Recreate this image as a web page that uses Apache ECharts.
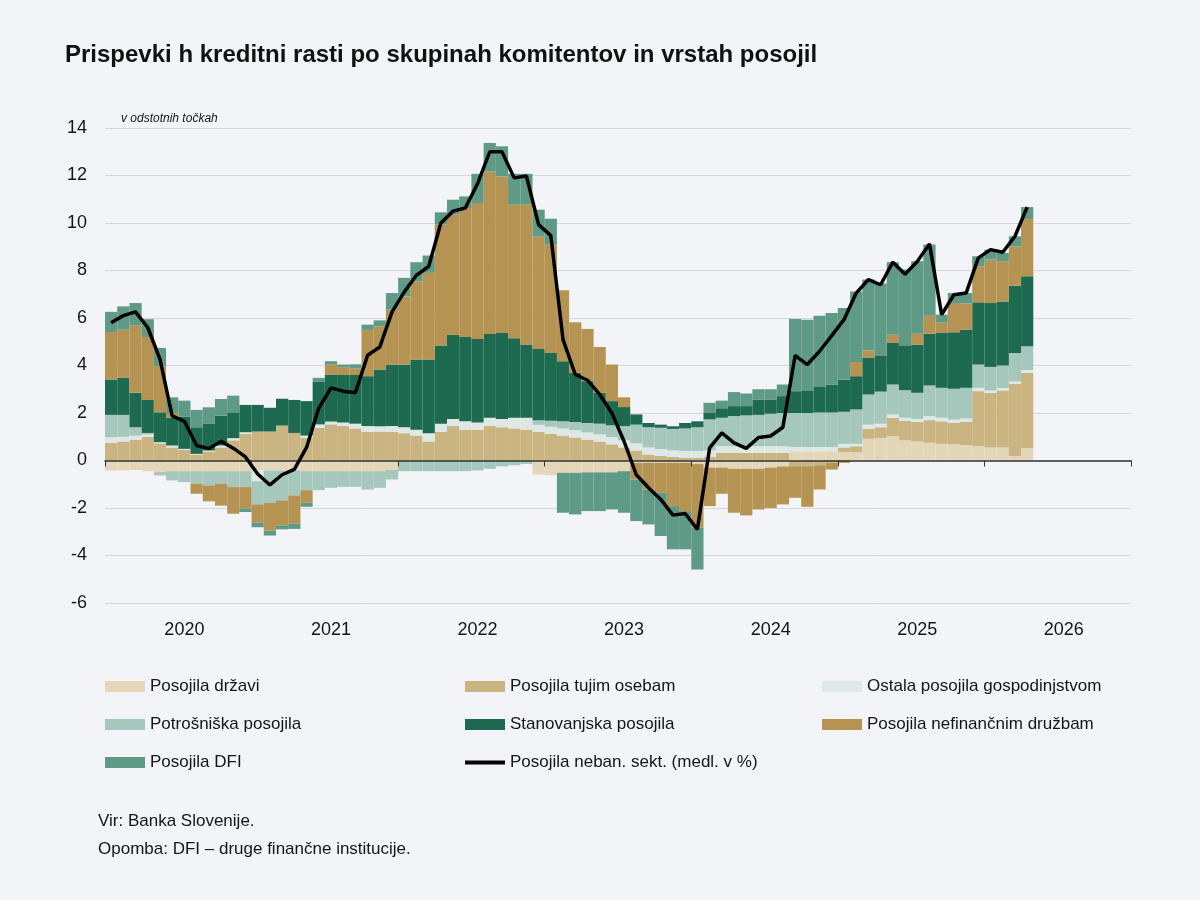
<!DOCTYPE html>
<html>
<head>
<meta charset="utf-8">
<title>Prispevki h kreditni rasti</title>
<script src="https://cdn.jsdelivr.net/npm/echarts@6/dist/echarts.min.js"></script>
<style>
    html, body { margin: 0; padding: 0; background: #f3f4f8; }
    #chart { width: 1200px; height: 900px; }
</style>
</head>
<body>
<div id="chart"></div>
<script>
// os x: meseci od 2020 do 2026
var years = ['2020', '2021', '2022', '2023', '2024', '2025', '2026'];
var months = ['01', '02', '03', '04', '05', '06', '07', '08', '09', '10', '11', '12'];

// prispevki v odstotnih tockah (mesecni podatki)
var drzavi = [-0.42, -0.42, -0.4, -0.45, -0.49, -0.45, -0.45, -0.45, -0.45, -0.45,
    -0.45, -0.45, -0.42, -0.42, -0.42, -0.42, -0.45, -0.45, -0.45, -0.45,
    -0.45, -0.45, -0.45, -0.4, 0, 0, 0, 0, 0, 0,
    0, 0, 0, 0, 0, -0.6, -0.62, -0.52, -0.52, -0.5,
    -0.5, -0.5, -0.45, -0.1, -0.1, -0.1, -0.1, -0.1, -0.15, -0.3,
    -0.3, -0.35, -0.35, -0.35, -0.3, -0.25, 0.39, 0.39, 0.39, 0.39,
    0.35, 0.35, 0.91, 0.95, 1.02, 0.85, 0.8, 0.75, 0.7, 0.68,
    0.65, 0.6, 0.55, 0.55, 0.18, 0.53];
var tujim = [0.74, 0.8, 0.88, 1.0, 0.72, 0.55, 0.45, 0.25, 0.38, 0.55,
    0.85, 1.12, 1.22, 1.22, 1.47, 1.16, 0.95, 1.37, 1.52, 1.45,
    1.35, 1.2, 1.22, 1.2, 1.15, 1.05, 0.8, 1.2, 1.45, 1.3,
    1.3, 1.45, 1.4, 1.35, 1.3, 1.2, 1.12, 1.05, 0.97, 0.88,
    0.8, 0.68, 0.55, 0.42, 0.25, 0.2, 0.15, 0.12, 0.12, 0.15,
    0.32, 0.32, 0.32, 0.32, 0.32, 0.32, -0.24, -0.24, -0.2, -0.1,
    0.2, 0.25, 0.42, 0.45, 0.78, 0.82, 0.82, 0.95, 0.95, 0.9,
    0.98, 2.32, 2.3, 2.4, 3.05, 3.16];
var ostala = [0.24, 0.2, 0.17, 0.1, 0.05, 0.08, 0.04, 0.03, 0.04, 0.08,
    0.09, 0.07, -0.45, 0, 0, 0, 0.1, 0.15, 0.12, 0.15,
    0.2, 0.25, 0.22, 0.25, 0.25, 0.25, 0.35, 0.35, 0.3, 0.35,
    0.3, 0.35, 0.35, 0.45, 0.5, 0.3, 0.3, 0.3, 0.3, 0.3,
    0.3, 0.3, 0.3, 0.3, 0.3, 0.28, 0.28, 0.28, 0.28, 0.28,
    0.28, 0.28, 0.28, 0.28, 0.28, 0.28, 0.18, 0.18, 0.18, 0.18,
    0.15, 0.1, 0.18, 0.15, 0.14, 0.13, 0.13, 0.17, 0.15, 0.14,
    0.14, 0.14, 0.1, 0.1, 0.1, 0.12];
var potrosniska = [0.94, 0.92, 0.35, 0.06, -0.14, -0.39, -0.46, -0.53, -0.6, -0.53,
    -0.67, -0.67, -0.98, -1.37, -1.26, -1.05, -0.8, -0.8, -0.7, -0.66,
    -0.66, -0.77, -0.7, -0.4, -0.45, -0.45, -0.45, -0.45, -0.45, -0.45,
    -0.42, -0.35, -0.25, -0.2, -0.15, 0.2, 0.25, 0.3, 0.35, 0.4,
    0.45, 0.5, 0.6, 0.79, 0.85, 0.9, 0.9, 0.95, 1.0, 1.3,
    1.2, 1.27, 1.3, 1.32, 1.37, 1.4, 1.43, 1.43, 1.45, 1.45,
    1.35, 1.45, 1.27, 1.35, 1.26, 1.16, 1.1, 1.29, 1.26, 1.3,
    1.29, 0.98, 0.99, 0.95, 1.2, 1.0];
var stanovanjska = [1.49, 1.56, 1.45, 1.39, 1.26, 1.17, 1.36, 1.12, 1.12, 1.26,
    1.09, 1.15, 1.12, 1.0, 1.13, 1.39, 1.45, 1.79, 1.98, 2.0,
    2.05, 2.1, 2.39, 2.59, 2.64, 2.95, 3.1, 3.29, 3.54, 3.55,
    3.52, 3.53, 3.62, 3.35, 3.08, 3.0, 2.86, 2.53, 2.07, 1.76,
    1.3, 1.02, 0.8, 0.43, 0.18, 0.13, 0.11, 0.23, 0.25, 0.27,
    0.4, 0.42, 0.39, 0.65, 0.6, 0.71, 0.92, 0.93, 1.08, 1.18,
    1.35, 1.4, 1.54, 1.5, 1.75, 1.89, 2.03, 2.18, 2.31, 2.38,
    2.45, 2.62, 2.69, 2.7, 2.83, 2.95];
var nefinancne = [2.0, 2.03, 2.83, 2.65, 1.94, 0.2, 0, -0.42, -0.67, -0.92,
    -1.12, -0.91, -0.77, -1.16, -1.05, -1.19, -0.53, 0, 0.42, 0.33,
    0.27, 1.95, 1.82, 2.31, 2.87, 3.3, 3.65, 5.09, 5.06, 5.43,
    5.72, 6.84, 6.59, 5.62, 5.89, 4.74, 4.56, 2.99, 2.13, 2.2,
    1.93, 1.54, 0.41, -0.7, -1.12, -1.26, -1.82, -2.03, -2.68, -1.62,
    -1.1, -1.85, -1.96, -1.71, -1.7, -1.6, -1.33, -1.71, -1.02, -0.28,
    -0.1, 0.6, 0.32, 0, 0.35, 0, 0.46, 0.76, 0.43, 1.23,
    1.1, 1.52, 1.83, 1.69, 1.66, 2.41];
var dfi = [0.85, 0.98, 0.95, 0.75, 0.77, 0.66, 0.67, 0.73, 0.7, 0.7,
    0.7, -0.14, -0.19, -0.21, -0.17, -0.22, -0.17, 0.17, 0.14, 0.11,
    0.18, 0.22, 0.25, 0.7, 0.78, 0.8, 0.73, 0.52, 0.63, 0.49,
    1.23, 1.2, 1.27, 1.3, 1.3, 1.12, 1.09, -1.68, -1.75, -1.63,
    -1.63, -1.56, -1.75, -1.75, -1.47, -1.82, -1.82, -1.61, -1.76, 0.43,
    0.32, 0.59, 0.53, 0.43, 0.43, 0.49, 3.04, 3.0, 3.0, 3.01,
    3.02, 2.97, 2.98, 3.05, 3.05, 3.19, 3.05, 3.0, 0.34, 0.42,
    0.44, 0.42, 0.42, 0.35, 0.42, 0.5];
// medletna rast posojil nebancnemu sektorju v %
var rast = [5.8, 6.1, 6.26, 5.6, 4.27, 1.88, 1.65, 0.63, 0.5, 0.81,
    0.52, 0.15, -0.57, -1.03, -0.6, -0.37, 0.55, 2.2, 3.06, 2.92,
    2.85, 4.43, 4.78, 6.26, 7.1, 7.8, 8.17, 10.0, 10.5, 10.63,
    11.65, 13.0, 13.0, 11.9, 11.98, 9.93, 9.47, 5.09, 3.62, 3.38,
    2.78, 2.0, 0.8, -0.6, -1.15, -1.64, -2.3, -2.23, -2.9, 0.53,
    1.16, 0.74, 0.51, 0.97, 1.03, 1.4, 4.42, 4.04, 4.6, 5.26,
    5.93, 7.05, 7.62, 7.4, 8.35, 7.84, 8.38, 9.12, 6.14, 6.98,
    7.05, 8.53, 8.88, 8.77, 9.44, 10.67];

var categories = [];
years.forEach(function (y) {
    months.forEach(function (m) {
        categories.push(y + '-' + m);
    });
});

var font = "'Liberation Sans', Arial, sans-serif";
var textColor = '#151515';

function barSeries(name, data, color) {
    return {
        name: name,
        type: 'bar',
        stack: 'skupaj',
        data: data,
        barCategoryGap: '0%',
        itemStyle: { color: color },
        emphasis: { disabled: true }
    };
}

// legenda v treh stolpcih
function legendColumn(left, items) {
    return {
        orient: 'vertical',
        left: left,
        top: 678,
        padding: 0,
        itemWidth: 40,
        itemHeight: 11,
        itemGap: 21,
        textStyle: { fontFamily: font, fontSize: 17, color: textColor },
        data: items
    };
}

var chart = echarts.init(document.getElementById('chart'));
chart.setOption({
    backgroundColor: '#f3f4f8',
    animation: false,
    textStyle: { fontFamily: font, color: textColor },
    title: [{
        text: 'Prispevki h kreditni rasti po skupinah komitentov in vrstah posojil',
        left: 65,
        top: 43,
        padding: 0,
        textStyle: { fontFamily: font, fontSize: 24, fontWeight: 'bold', color: '#111' }
    }, {
        text: 'Vir: Banka Slovenije.',
        left: 98,
        top: 813,
        padding: 0,
        textStyle: { fontFamily: font, fontSize: 17, fontWeight: 'normal', color: textColor }
    }, {
        text: 'Opomba: DFI – druge finančne institucije.',
        left: 98,
        top: 841,
        padding: 0,
        textStyle: { fontFamily: font, fontSize: 17, fontWeight: 'normal', color: textColor }
    }],
    legend: [
        legendColumn(105, [
            { name: 'Posojila državi', icon: 'rect' },
            { name: 'Potrošniška posojila', icon: 'rect' },
            { name: 'Posojila DFI', icon: 'rect' }
        ]),
        legendColumn(465, [
            { name: 'Posojila tujim osebam', icon: 'rect' },
            { name: 'Stanovanjska posojila', icon: 'rect' },
            { name: 'Posojila neban. sekt. (medl. v %)', icon: 'path://M0,0H40V4H0Z' }
        ]),
        legendColumn(822, [
            { name: 'Ostala posojila gospodinjstvom', icon: 'rect' },
            { name: 'Posojila nefinančnim družbam', icon: 'rect' }
        ])
    ],
    grid: { left: 105, right: 69, top: 128, bottom: 297, containLabel: false },
    xAxis: [{
        type: 'category',
        data: categories,
        position: 'bottom',
        z: 5,
        axisLine: { onZero: true, lineStyle: { color: '#333', width: 1.5 } },
        axisTick: {
            show: true,
            length: 6,
            interval: function (i) { return i % 12 === 0; },
            lineStyle: { color: '#333', width: 1 }
        },
        axisLabel: { show: false },
        splitLine: { show: false }
    }, {
        type: 'category',
        data: categories,
        position: 'bottom',
        axisLine: { show: false, onZero: false },
        axisTick: { show: false },
        axisLabel: {
            show: true,
            interval: function (i) { return i % 12 === 6; },
            formatter: function (v) { return v.slice(0, 4); },
            margin: 18,
            fontSize: 18,
            fontFamily: font,
            color: textColor
        },
        splitLine: { show: false }
    }],
    yAxis: {
        type: 'value',
        min: -6,
        max: 14,
        interval: 2,
        name: 'v odstotnih točkah',
        nameLocation: 'end',
        nameGap: 3,
        nameTextStyle: {
            fontFamily: font, fontSize: 12, fontStyle: 'italic', color: textColor,
            align: 'left', padding: [0, 0, 0, 16]
        },
        axisLine: { show: false },
        axisTick: { show: false },
        axisLabel: { fontSize: 18, margin: 18, color: textColor, fontFamily: font },
        splitLine: { lineStyle: { color: '#d5d6da', width: 1 } }
    },
    series: [
        barSeries('Posojila državi', drzavi, '#e3d6b9'),
        barSeries('Posojila tujim osebam', tujim, '#c9b482'),
        barSeries('Ostala posojila gospodinjstvom', ostala, '#dee9e5'),
        barSeries('Potrošniška posojila', potrosniska, '#a6c7bc'),
        barSeries('Stanovanjska posojila', stanovanjska, '#1d6a50'),
        barSeries('Posojila nefinančnim družbam', nefinancne, '#b59352'),
        barSeries('Posojila DFI', dfi, '#5f9a86'),
        {
            name: 'Posojila neban. sekt. (medl. v %)',
            type: 'line',
            data: rast,
            symbol: 'none',
            z: 10,
            lineStyle: { color: '#000', width: 3.5 },
            itemStyle: { color: '#000' },
            emphasis: { disabled: true }
        }
    ]
});
</script>
</body>
</html>
